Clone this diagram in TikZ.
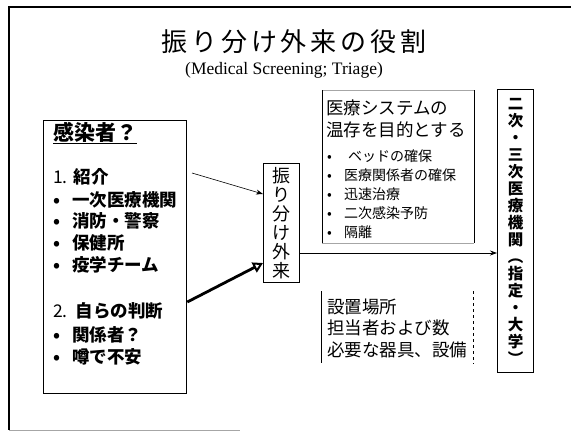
\documentclass[tikz,border=0pt]{standalone}
\usepackage{fontspec}
\setmainfont{Liberation Serif}
\newfontfamily\jp{Noto Sans CJK JP}
\usetikzlibrary{arrows.meta}
\newcommand\tchar[1]{\makebox[29.8pt]{#1}}
\tikzset{
  boxnode/.style={draw, line width=1pt, inner sep=0pt, anchor=north west},
  plainbox/.style={inner sep=0pt, anchor=north west},
  ltext/.style={anchor=west, inner sep=0pt, font=\jp\fontsize{17.5}{20}\selectfont\bfseries},
  mtext/.style={anchor=west, inner sep=0pt, font=\jp\fontsize{17.5}{22}\selectfont},
  btext/.style={anchor=west, inner sep=0pt, font=\jp\fontsize{14}{19}\selectfont},
  thinarrow/.style={line width=0.6pt, -{Stealth[length=7pt,width=5pt]}},
  thickarrow/.style={line width=2.8pt, -{Triangle[open,length=10pt,width=11pt,line width=2pt]}},
}
\begin{document}
\begin{tikzpicture}[x=1pt,y=-1pt]
\useasboundingbox (0,0) rectangle (571,432);
\fill[white] (0,0) rectangle (571,432);
% frame
\draw[line width=1.3pt] (571,7) -- (9,7) -- (9,430);
\draw[gray!70, line width=1pt] (9,430) -- (240,430);
% title
\node[inner sep=0pt, font=\jp\fontsize{26}{30}\selectfont] (title) at (294,42)
  {\tchar{振}\tchar{り}\tchar{分}\tchar{け}\tchar{外}\tchar{来}\tchar{の}\tchar{役}\tchar{割}};
\node[inner sep=0pt, font=\fontsize{17.5}{20}\selectfont] (sub) at (284,70) {(Medical Screening; Triage)};
% left box
\node[boxnode, line width=1.3pt, minimum width=143pt, minimum height=273pt] (left) at (43,120) {};
\node[ltext, font=\jp\fontsize{21}{24}\selectfont\bfseries] (l0) at (53,133) {\underline{感染者？}};
\node[ltext] (l1) at (53,177) {{\mdseries 1.}\hspace{6pt}紹介};
\node[ltext] (l2) at (53,200) {\makebox[19pt][l]{•}一次医療機関};
\node[ltext] (l3) at (53,221) {\makebox[19pt][l]{•}消防・警察};
\node[ltext] (l4) at (53,243) {\makebox[19pt][l]{•}保健所};
\node[ltext] (l5) at (53,265) {\makebox[19pt][l]{•}疫学チーム};
\node[ltext] (l6) at (53,311) {{\mdseries 2.}\hspace{8pt}自らの判断};
\node[ltext] (l7) at (53,335) {\makebox[19pt][l]{•}関係者？};
\node[ltext] (l8) at (53,357) {\makebox[19pt][l]{•}噂で不安};
% middle box
\node[boxnode, minimum width=36pt, minimum height=119pt, align=center,
  font=\jp\fontsize{18}{19}\selectfont] (mid) at (263,163) {振\\り\\分\\け\\外\\来};
% medical system box
\node[plainbox, minimum width=152pt, minimum height=153pt] (med) at (322,90) {};
\draw[gray!70, line width=0.8pt] (med.north west) -- (med.north east);
\draw[gray!70, line width=0.8pt] (med.south west) -- (med.south east);
\draw[line width=0.6pt] (med.north west) -- (med.south west);
\draw[line width=1.2pt] (med.north east) -- (med.south east);
\node[mtext] (m1) at (326,108) {医療システムの};
\node[mtext] (m2) at (326,130) {温存を目的とする};
\node[btext] (b1) at (327,156) {\makebox[17pt][l]{•}\hspace{4pt}ベッドの確保};
\node[btext] (b2) at (327,175) {\makebox[17pt][l]{•}医療関係者の確保};
\node[btext] (b3) at (327,194) {\makebox[17pt][l]{•}迅速治療};
\node[btext] (b4) at (327,213) {\makebox[17pt][l]{•}二次感染予防};
\node[btext] (b5) at (327,232) {\makebox[17pt][l]{•}隔離};
% setup box
\node[plainbox, minimum width=152pt, minimum height=72pt] (setup) at (321,291) {};
\draw[line width=0.6pt] (setup.north west) -- (setup.south west);
\draw[line width=1pt, dashed] (setup.north east) -- (setup.south east);
\node[mtext] (s1) at (327,307) {設置場所};
\node[mtext] (s2) at (327,328) {担当者および数};
\node[mtext] (s3) at (327,350) {必要な器具、設備};
% right box
\node[boxnode, line width=1.3pt, minimum width=36pt, minimum height=283pt, align=center,
  font=\jp\fontsize{15.5}{17}\selectfont\bfseries] (right) at (497,89)
  {二\\次\\・\\三\\次\\医\\療\\機\\関\\︵\\指\\定\\・\\大\\学\\︶};
% arrows
\coordinate (a1) at (192,173);
\draw[thinarrow] (a1) -- ([yshift=-31pt]mid.north west);
\draw[thickarrow] ([yshift=-182pt]left.north east) -- ([yshift=-100pt]mid.north west);
\coordinate (h1) at ([yshift=-90pt]mid.north east);
\draw[line width=0.8pt, -{Stealth[length=7pt,width=5pt]}] (h1) -- (right.west |- h1);
\end{tikzpicture}
\end{document}
